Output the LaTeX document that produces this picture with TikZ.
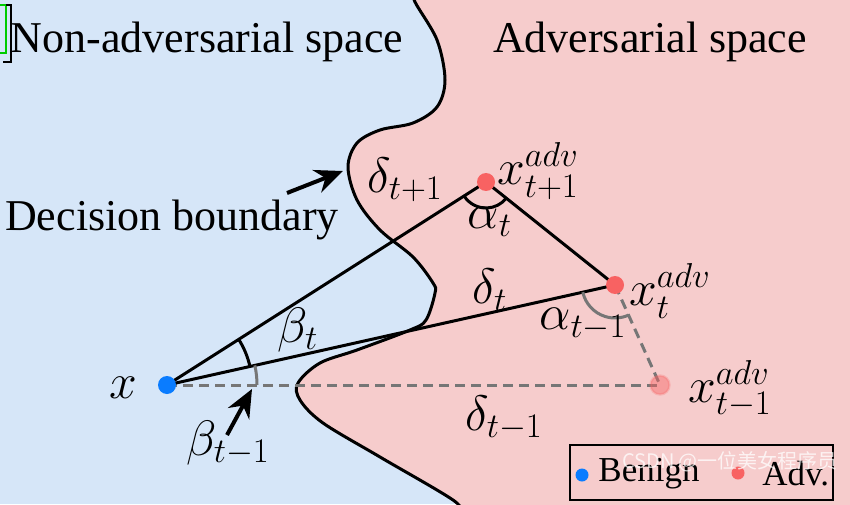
\documentclass[tikz,border=0pt]{standalone}
\usepackage{fontspec}
\setmainfont{Liberation Serif}
\newfontfamily\cjkfont{Noto Sans CJK SC}
\usetikzlibrary{arrows.meta,angles}
\definecolor{bgblue}{RGB}{214,230,248}
\definecolor{bgpink}{RGB}{246,204,204}
\definecolor{dotblue}{RGB}{10,124,255}
\definecolor{dotred}{RGB}{248,98,98}
\definecolor{dashgray}{RGB}{118,118,118}
\begin{document}
\begin{tikzpicture}[x=0.5pt,y=0.5pt,
  bigtext/.style={font=\fontsize{22}{26}\selectfont, inner sep=0pt},
  mathlbl/.style={font=\fontsize{23.5}{27}\selectfont, inner sep=0pt},
  legtext/.style={font=\fontsize{17.5}{20}\selectfont, inner sep=0pt, anchor=west},
  solidline/.style={line width=1.5pt, black},
  dashline/.style={line width=1.5pt, dashgray, dash pattern=on 5pt off 3pt},
  pointer/.style={line width=2pt, -{Stealth[length=14pt,width=12pt]}},
  dotb/.style={circle, fill=dotblue, minimum size=9pt, inner sep=0pt},
  dotr/.style={circle, fill=dotred, minimum size=9pt, inner sep=0pt},
  dotf/.style={circle, fill=dotred, fill opacity=0.45, draw=dotred, draw opacity=0.25, line width=1.2pt, minimum size=9.5pt, inner sep=0pt},
  ldot/.style={circle, minimum size=6.5pt, inner sep=0pt}
]
\useasboundingbox (0,0) rectangle (850,504);
\clip (0,0) rectangle (850,504);
\fill[bgblue] (0,0) rectangle (850,504);
\def\bnd{(413,514) (415,502) (437,464) (445,424) (437,397) (413,381) (380,374) (357,361) (348,337) (357,304) (380,274) (413,247) (433,221) (435,211) (426,184) (410,174) (357,154) (320,141) (298,121) (300,104) (323,81) (380,47) (453,4) (462,-10)}
\fill[bgpink] plot[smooth,tension=0.55] coordinates {\bnd} -- (860,-10) -- (860,514) -- cycle;
\draw[line width=1.5pt] plot[smooth,tension=0.55] coordinates {\bnd};

% top-left artifact
\draw[green!80!black, line width=1.2pt] (-5,499) -- (6,499) -- (6,451) -- (-5,451);
\draw[black, line width=0.8pt] (6,499) -- (11,499) -- (11,442) -- (3,442);

% titles
\node[bigtext] (nonadv) at (207,462) {Non-adversarial space};
\node[bigtext] (adv) at (650,462) {Adversarial space};
\node[bigtext] (db) at (172,284) {Decision boundary};

% points
\coordinate (x) at (167,119);
\coordinate (xt1) at (486,322);
\coordinate (xt) at (615,219);
\coordinate (xm1) at (660,119);

% connectors
\draw[dashline] (x) -- (xm1);
\draw[dashline] (xt) -- (xm1);
\draw[solidline] (x) -- (xt1);
\draw[solidline] (x) -- (xt);
\draw[solidline] (xt1) -- (xt);

% angles
\pic[draw=black, line width=1.5pt, angle radius=42.5pt] {angle=xt--x--xt1};
\pic[draw=dashgray, line width=1.5pt, angle radius=45pt] {angle=xm1--x--xt};
\pic[draw=black, line width=1.5pt, angle radius=13pt] {angle=x--xt1--xt};
\pic[draw=dashgray, line width=1.5pt, angle radius=16.5pt] {angle=x--xt--xm1};

% dots
\node[dotb] (px) at (x) {};
\node[dotr] (pxt1) at (xt1) {};
\node[dotr] (pxt) at (xt) {};
\node[dotf] (pxm1) at (xm1) {};

% labels
\node[mathlbl] (lx) at (123,116) {$x$};
\node[mathlbl] (lxt1) at (538,333) {$x_{t+1}^{adv}$};
\node[mathlbl] (lxt) at (670,213) {$x_{t}^{adv}$};
\node[mathlbl] (lxm1) at (730,115) {$x_{t-1}^{adv}$};
\node[mathlbl] (ldt1) at (405,324) {$\delta_{t+1}$};
\node[mathlbl] (lat) at (490,282) {$\alpha_{t}$};
\node[mathlbl] (ldt) at (490,214) {$\delta_{t}$};
\node[mathlbl] (lbt) at (298,174) {$\beta_{t}$};
\node[mathlbl] (lam1) at (583,180) {$\alpha_{t-1}$};
\node[mathlbl] (ldm1) at (504,86) {$\delta_{t-1}$};
\node[mathlbl] (lbm1) at (228,61) {$\beta_{t-1}$};

% pointer arrows
\coordinate (a1s) at (287,311);
\coordinate (a1e) at (343,333);
\draw[pointer] (a1s) -- (a1e);
\coordinate (a2s) at (227,69);
\coordinate (a2e) at (252,115);
\draw[pointer] (a2s) -- (a2e);

% legend
\node[draw=black, line width=1pt, minimum width=131.5pt, minimum height=27.5pt, inner sep=0pt] (legend) at (701.5,31.5) {};
\node[ldot, fill=dotblue] (lgb) at (582,29) {};
\node[legtext] (lgbt) at (598,30) {Benign};
\node[ldot, fill=dotred] (lgr) at (738,31) {};
\node[legtext] (lgrt) at (762,30) {Adv.};

% watermark
\node[font=\cjkfont\fontsize{10}{12}\selectfont, text=white, text opacity=0.75, inner sep=0pt] (wm) at (730,42) {CSDN @一位美女程序员};
\end{tikzpicture}
\end{document}
